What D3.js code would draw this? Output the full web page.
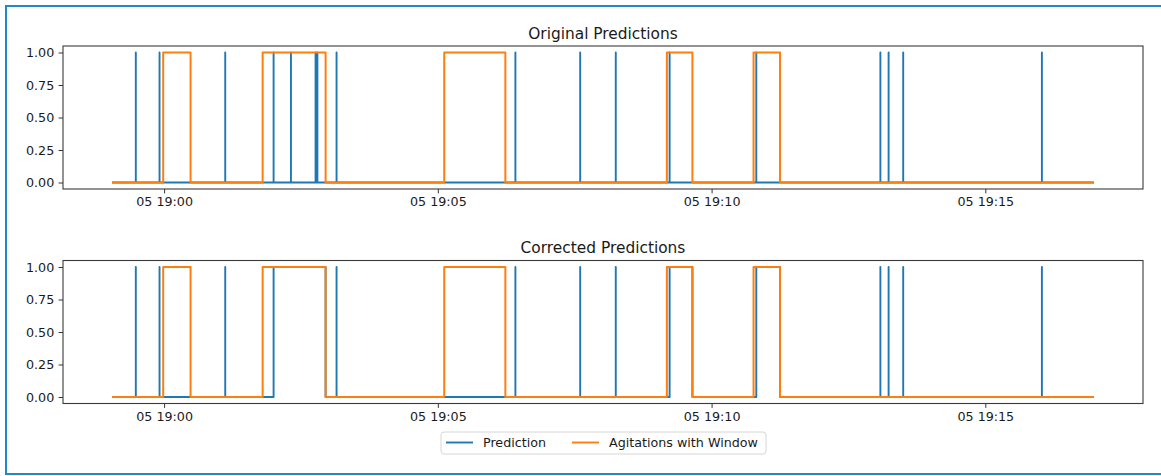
<!DOCTYPE html>
<html>
<head>
<meta charset="utf-8">
<script src="https://cdn.jsdelivr.net/npm/d3@7"></script>
<style>
  html, body { margin: 0; padding: 0; background: #fff; }
  svg { display: block; font-family: "DejaVu Sans", sans-serif; }
</style>
</head>
<body>
<div id="chart"></div>
<script>
// data (times on day 05)
const day = "2023-06-05";
const seriesStart = "18:59:03";
const seriesEnd = "19:16:59";

// original prediction spikes
const predSpikes = ["18:59:29", "18:59:55", "19:01:07", "19:02:00", "19:02:19", "19:02:46", "19:02:48",
  "19:03:09", "19:06:25", "19:07:36", "19:08:15", "19:09:14", "19:10:49", "19:13:05", "19:13:14",
  "19:13:30", "19:16:02"];

// agitation windows
const windowStarts = ["18:59:59", "19:01:48", "19:05:07", "19:09:11", "19:10:46"];
const windowEnds = ["19:00:29", "19:02:57", "19:06:14", "19:09:39", "19:11:15"];

// corrected predictions: spikes kept + filled runs
const corrSpikes = ["18:59:29", "18:59:55", "19:01:07", "19:03:09", "19:06:25", "19:07:36", "19:08:15",
  "19:13:05", "19:13:14", "19:13:30", "19:16:02"];
const corrRunStarts = ["19:02:00", "19:09:14", "19:10:49"];
const corrRunEnds = ["19:02:57", "19:09:39", "19:11:15"];

const yTicks = [0, 0.25, 0.5, 0.75, 1];
const titles = ["Original Predictions", "Corrected Predictions"];
const legendLabels = ["Prediction", "Agitations with Window"];
const colors = ["#1f77b4", "#ff7f0e"];

const parse = d3.timeParse("%Y-%m-%d %H:%M:%S");
const T = s => parse(day + " " + s);

// build a 0/1 series from spikes and runs
const buildSeries = (spikes, starts, ends) => {
  let events = [];
  spikes.forEach(s => events.push({ a: T(s), b: T(s) }));
  starts.forEach((s, i) => events.push({ a: T(s), b: T(ends[i]) }));
  events.sort((p, q) => p.a - q.a);
  let pts = [[T(seriesStart), 0]];
  events.forEach(e => {
    pts.push([e.a, 0], [e.a, 1], [e.b, 1], [e.b, 0]);
  });
  pts.push([T(seriesEnd), 0]);
  return pts;
}

const panels = [
  { title: titles[0], pred: buildSeries(predSpikes, [], []), win: buildSeries([], windowStarts, windowEnds), top: 46 },
  { title: titles[1], pred: buildSeries(corrSpikes, corrRunStarts, corrRunEnds), win: buildSeries([], windowStarts, windowEnds), top: 260.5 }
];

const W = 1161, H = 476;
const left = 63, right = 1143, ph = 143;

const svg = d3.select("#chart").append("svg")
  .attr("width", W).attr("height", H);

// outer frame (the screenshot border)
svg.append("rect")
  .attr("x", 6).attr("y", 6)
  .attr("width", 1200).attr("height", 468)
  .attr("fill", "none")
  .attr("stroke", "#2288c6")
  .attr("stroke-width", 2);

const t0 = T(seriesStart), t1 = T(seriesEnd);
const pad = (t1 - t0) * 0.05;
const x = d3.scaleTime()
  .domain([new Date(+t0 - pad), new Date(+t1 + pad)])
  .range([left, right]);

panels.forEach(p => {
  let y = d3.scaleLinear().domain([-0.05, 1.05]).range([p.top + ph, p.top]);
  let g = svg.append("g");

  let line = d3.line()
    .x(d => x(d[0]))
    .y(d => y(d[1]));

  g.append("path")
    .datum(p.pred)
    .attr("d", line)
    .attr("fill", "none")
    .attr("stroke", colors[0])
    .attr("stroke-width", 1.9)
    .attr("stroke-linejoin", "round");

  g.append("path")
    .datum(p.win)
    .attr("d", line)
    .attr("fill", "none")
    .attr("stroke", colors[1])
    .attr("stroke-width", 2)
    .attr("stroke-linejoin", "round");

  // axes
  let xAxis = g.append("g")
    .attr("transform", "translate(0," + (p.top + ph) + ")")
    .call(d3.axisBottom(x)
      .ticks(d3.timeMinute.every(5))
      .tickFormat(d3.timeFormat("%d %H:%M"))
      .tickSizeOuter(0)
      .tickSize(4.4)
      .tickPadding(4));

  let yAxis = g.append("g")
    .attr("transform", "translate(" + left + ",0)")
    .call(d3.axisLeft(y)
      .tickValues(yTicks)
      .tickFormat(d3.format(".2f"))
      .tickSizeOuter(0)
      .tickSize(4.4)
      .tickPadding(4.4));

  [xAxis, yAxis].forEach(a => {
    a.select(".domain").remove();
    a.selectAll("line").attr("stroke", "#333").attr("stroke-width", 1);
    a.selectAll("text")
      .attr("fill", "#1a1a1a")
      .style("font-size", "12.7px")
      .style("font-family", "DejaVu Sans");
  });

  // frame
  g.append("rect")
    .attr("x", left).attr("y", p.top)
    .attr("width", right - left).attr("height", ph)
    .attr("fill", "none")
    .attr("stroke", "#3a3a3a")
    .attr("stroke-width", 1.1);

  g.append("text")
    .attr("x", (left + right) / 2)
    .attr("y", p.top - 7.5)
    .attr("text-anchor", "middle")
    .attr("fill", "#1a1a1a")
    .style("font-size", "15.4px")
    .text(p.title);
});

// legend
const leg = svg.append("g").attr("transform", "translate(441,432)");
leg.append("rect")
  .attr("width", 325).attr("height", 22)
  .attr("rx", 3)
  .attr("fill", "#fff")
  .attr("stroke", "#d6d6d6")
  .attr("stroke-width", 1);

const legX = [5, 131];
legendLabels.forEach((lab, i) => {
  leg.append("line")
    .attr("x1", legX[i]).attr("x2", legX[i] + 27)
    .attr("y1", 10.5).attr("y2", 10.5)
    .attr("stroke", colors[i])
    .attr("stroke-width", 1.9);
  leg.append("text")
    .attr("x", legX[i] + 37)
    .attr("y", 15)
    .attr("fill", "#1a1a1a")
    .style("font-size", "12.7px")
    .text(lab);
});
</script>
</body>
</html>
